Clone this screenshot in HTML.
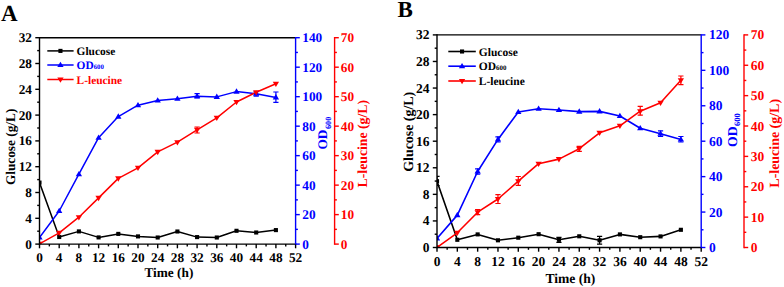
<!DOCTYPE html><html><head><meta charset="utf-8"><style>html,body{margin:0;padding:0;background:#fff;}svg{display:block;}</style></head><body>
<svg width="784" height="287" viewBox="0 0 784 287" font-family='"Liberation Serif", serif' font-weight="bold" text-rendering="geometricPrecision">
<rect width="784" height="287" fill="#fff"/>
<clipPath id="cA"><rect x="39.5" y="37.7" width="256.1" height="206.4"/></clipPath>
<g clip-path="url(#cA)">
<polyline points="39.5,182.6 59.2,237 78.9,231.4 98.6,237.4 118.3,233.9 138,236.4 157.7,237.5 177.4,231.5 197.1,237.1 216.8,237.5 236.5,230.8 256.2,232.5 275.9,230.1" fill="none" stroke="#000000" stroke-width="1.5" stroke-linejoin="round"/>
<polyline points="39.5,237.5 59.2,211 78.9,174.2 98.6,137.7 118.3,116.6 138,105.2 157.7,100.5 177.4,98.8 197.1,96.2 216.8,96.9 236.5,91.6 256.2,93.8 275.9,97.4" fill="none" stroke="#0000FF" stroke-width="1.5" stroke-linejoin="round"/>
<polyline points="39.5,243.8 59.2,232.8 78.9,217.2 98.6,197.9 118.3,178.4 138,167.8 157.7,151.9 177.4,142.2 197.1,129.9 216.8,117.8 236.5,102 256.2,92.2 275.9,83.8" fill="none" stroke="#FF0000" stroke-width="1.5" stroke-linejoin="round"/>
<line x1="275.9" y1="92" x2="275.9" y2="102.4" stroke="#0000FF" stroke-width="1.2"/>
<line x1="273.3" y1="92" x2="278.5" y2="92" stroke="#0000FF" stroke-width="1.2"/>
<line x1="273.3" y1="102.4" x2="278.5" y2="102.4" stroke="#0000FF" stroke-width="1.2"/>
<line x1="197.1" y1="127" x2="197.1" y2="133" stroke="#FF0000" stroke-width="1.2"/>
<line x1="194.5" y1="127" x2="199.7" y2="127" stroke="#FF0000" stroke-width="1.2"/>
<line x1="194.5" y1="133" x2="199.7" y2="133" stroke="#FF0000" stroke-width="1.2"/>
<line x1="256.2" y1="91.5" x2="256.2" y2="96.1" stroke="#0000FF" stroke-width="1.2"/>
<line x1="253.6" y1="91.5" x2="258.8" y2="91.5" stroke="#0000FF" stroke-width="1.2"/>
<line x1="253.6" y1="96.1" x2="258.8" y2="96.1" stroke="#0000FF" stroke-width="1.2"/>
<line x1="197.1" y1="93.6" x2="197.1" y2="97.9" stroke="#0000FF" stroke-width="1.2"/>
<line x1="194.5" y1="93.6" x2="199.7" y2="93.6" stroke="#0000FF" stroke-width="1.2"/>
<line x1="194.5" y1="97.9" x2="199.7" y2="97.9" stroke="#0000FF" stroke-width="1.2"/>
<rect x="37.45" y="180.55" width="4.1" height="4.1" fill="#000000"/>
<rect x="57.15" y="234.95" width="4.1" height="4.1" fill="#000000"/>
<rect x="76.85" y="229.35" width="4.1" height="4.1" fill="#000000"/>
<rect x="96.55" y="235.35" width="4.1" height="4.1" fill="#000000"/>
<rect x="116.25" y="231.85" width="4.1" height="4.1" fill="#000000"/>
<rect x="135.95" y="234.35" width="4.1" height="4.1" fill="#000000"/>
<rect x="155.65" y="235.45" width="4.1" height="4.1" fill="#000000"/>
<rect x="175.35" y="229.45" width="4.1" height="4.1" fill="#000000"/>
<rect x="195.05" y="235.05" width="4.1" height="4.1" fill="#000000"/>
<rect x="214.75" y="235.45" width="4.1" height="4.1" fill="#000000"/>
<rect x="234.45" y="228.75" width="4.1" height="4.1" fill="#000000"/>
<rect x="254.15" y="230.45" width="4.1" height="4.1" fill="#000000"/>
<rect x="273.85" y="228.05" width="4.1" height="4.1" fill="#000000"/>
<polygon points="39.5,234.18 42.65,239.53 36.35,239.53" fill="#0000FF"/>
<polygon points="59.2,207.68 62.35,213.03 56.05,213.03" fill="#0000FF"/>
<polygon points="78.9,170.88 82.05,176.23 75.75,176.23" fill="#0000FF"/>
<polygon points="98.6,134.38 101.75,139.73 95.45,139.73" fill="#0000FF"/>
<polygon points="118.3,113.28 121.45,118.63 115.15,118.63" fill="#0000FF"/>
<polygon points="138,101.88 141.15,107.23 134.85,107.23" fill="#0000FF"/>
<polygon points="157.7,97.18 160.85,102.53 154.55,102.53" fill="#0000FF"/>
<polygon points="177.4,95.48 180.55,100.83 174.25,100.83" fill="#0000FF"/>
<polygon points="197.1,92.88 200.25,98.23 193.95,98.23" fill="#0000FF"/>
<polygon points="216.8,93.58 219.95,98.93 213.65,98.93" fill="#0000FF"/>
<polygon points="236.5,88.28 239.65,93.63 233.35,93.63" fill="#0000FF"/>
<polygon points="256.2,90.48 259.35,95.83 253.05,95.83" fill="#0000FF"/>
<polygon points="275.9,94.08 279.05,99.43 272.75,99.43" fill="#0000FF"/>
<polygon points="39.5,247.12 42.65,241.77 36.35,241.77" fill="#FF0000"/>
<polygon points="59.2,236.12 62.35,230.77 56.05,230.77" fill="#FF0000"/>
<polygon points="78.9,220.52 82.05,215.17 75.75,215.17" fill="#FF0000"/>
<polygon points="98.6,201.22 101.75,195.87 95.45,195.87" fill="#FF0000"/>
<polygon points="118.3,181.72 121.45,176.37 115.15,176.37" fill="#FF0000"/>
<polygon points="138,171.12 141.15,165.77 134.85,165.77" fill="#FF0000"/>
<polygon points="157.7,155.22 160.85,149.87 154.55,149.87" fill="#FF0000"/>
<polygon points="177.4,145.52 180.55,140.17 174.25,140.17" fill="#FF0000"/>
<polygon points="197.1,133.22 200.25,127.87 193.95,127.87" fill="#FF0000"/>
<polygon points="216.8,121.12 219.95,115.77 213.65,115.77" fill="#FF0000"/>
<polygon points="236.5,105.32 239.65,99.97 233.35,99.97" fill="#FF0000"/>
<polygon points="256.2,95.52 259.35,90.17 253.05,90.17" fill="#FF0000"/>
<polygon points="275.9,87.12 279.05,81.77 272.75,81.77" fill="#FF0000"/>
</g>
<line x1="39.5" y1="37.7" x2="295.6" y2="37.7" stroke="#000000" stroke-width="1.4"/>
<line x1="39.5" y1="244.1" x2="296.3" y2="244.1" stroke="#000000" stroke-width="1.4"/>
<line x1="39.5" y1="37" x2="39.5" y2="244.8" stroke="#000000" stroke-width="1.4"/>
<line x1="295.6" y1="37" x2="295.6" y2="244.8" stroke="#0000FF" stroke-width="1.4"/>
<line x1="334.6" y1="37" x2="334.6" y2="244.8" stroke="#FF0000" stroke-width="1.4"/>
<line x1="35.3" y1="244.1" x2="39.5" y2="244.1" stroke="#000000" stroke-width="1.4"/>
<text x="32" y="248.56" font-size="13.3" fill="#000000" text-anchor="end" >0</text>
<line x1="37.2" y1="231.2" x2="39.5" y2="231.2" stroke="#000000" stroke-width="1.4"/>
<line x1="35.3" y1="218.3" x2="39.5" y2="218.3" stroke="#000000" stroke-width="1.4"/>
<text x="32" y="222.76" font-size="13.3" fill="#000000" text-anchor="end" >4</text>
<line x1="37.2" y1="205.4" x2="39.5" y2="205.4" stroke="#000000" stroke-width="1.4"/>
<line x1="35.3" y1="192.5" x2="39.5" y2="192.5" stroke="#000000" stroke-width="1.4"/>
<text x="32" y="196.96" font-size="13.3" fill="#000000" text-anchor="end" >8</text>
<line x1="37.2" y1="179.6" x2="39.5" y2="179.6" stroke="#000000" stroke-width="1.4"/>
<line x1="35.3" y1="166.7" x2="39.5" y2="166.7" stroke="#000000" stroke-width="1.4"/>
<text x="32" y="171.16" font-size="13.3" fill="#000000" text-anchor="end" >12</text>
<line x1="37.2" y1="153.8" x2="39.5" y2="153.8" stroke="#000000" stroke-width="1.4"/>
<line x1="35.3" y1="140.9" x2="39.5" y2="140.9" stroke="#000000" stroke-width="1.4"/>
<text x="32" y="145.36" font-size="13.3" fill="#000000" text-anchor="end" >16</text>
<line x1="37.2" y1="128" x2="39.5" y2="128" stroke="#000000" stroke-width="1.4"/>
<line x1="35.3" y1="115.1" x2="39.5" y2="115.1" stroke="#000000" stroke-width="1.4"/>
<text x="32" y="119.56" font-size="13.3" fill="#000000" text-anchor="end" >20</text>
<line x1="37.2" y1="102.2" x2="39.5" y2="102.2" stroke="#000000" stroke-width="1.4"/>
<line x1="35.3" y1="89.3" x2="39.5" y2="89.3" stroke="#000000" stroke-width="1.4"/>
<text x="32" y="93.76" font-size="13.3" fill="#000000" text-anchor="end" >24</text>
<line x1="37.2" y1="76.4" x2="39.5" y2="76.4" stroke="#000000" stroke-width="1.4"/>
<line x1="35.3" y1="63.5" x2="39.5" y2="63.5" stroke="#000000" stroke-width="1.4"/>
<text x="32" y="67.96" font-size="13.3" fill="#000000" text-anchor="end" >28</text>
<line x1="37.2" y1="50.6" x2="39.5" y2="50.6" stroke="#000000" stroke-width="1.4"/>
<line x1="35.3" y1="37.7" x2="39.5" y2="37.7" stroke="#000000" stroke-width="1.4"/>
<text x="32" y="42.16" font-size="13.3" fill="#000000" text-anchor="end" >32</text>
<line x1="39.5" y1="244.1" x2="39.5" y2="248.3" stroke="#000000" stroke-width="1.4"/>
<text x="39.5" y="262.1" font-size="13.3" fill="#000000" text-anchor="middle" >0</text>
<line x1="49.35" y1="244.1" x2="49.35" y2="246.4" stroke="#000000" stroke-width="1.4"/>
<line x1="59.2" y1="244.1" x2="59.2" y2="248.3" stroke="#000000" stroke-width="1.4"/>
<text x="59.2" y="262.1" font-size="13.3" fill="#000000" text-anchor="middle" >4</text>
<line x1="69.05" y1="244.1" x2="69.05" y2="246.4" stroke="#000000" stroke-width="1.4"/>
<line x1="78.9" y1="244.1" x2="78.9" y2="248.3" stroke="#000000" stroke-width="1.4"/>
<text x="78.9" y="262.1" font-size="13.3" fill="#000000" text-anchor="middle" >8</text>
<line x1="88.75" y1="244.1" x2="88.75" y2="246.4" stroke="#000000" stroke-width="1.4"/>
<line x1="98.6" y1="244.1" x2="98.6" y2="248.3" stroke="#000000" stroke-width="1.4"/>
<text x="98.6" y="262.1" font-size="13.3" fill="#000000" text-anchor="middle" >12</text>
<line x1="108.45" y1="244.1" x2="108.45" y2="246.4" stroke="#000000" stroke-width="1.4"/>
<line x1="118.3" y1="244.1" x2="118.3" y2="248.3" stroke="#000000" stroke-width="1.4"/>
<text x="118.3" y="262.1" font-size="13.3" fill="#000000" text-anchor="middle" >16</text>
<line x1="128.15" y1="244.1" x2="128.15" y2="246.4" stroke="#000000" stroke-width="1.4"/>
<line x1="138" y1="244.1" x2="138" y2="248.3" stroke="#000000" stroke-width="1.4"/>
<text x="138" y="262.1" font-size="13.3" fill="#000000" text-anchor="middle" >20</text>
<line x1="147.85" y1="244.1" x2="147.85" y2="246.4" stroke="#000000" stroke-width="1.4"/>
<line x1="157.7" y1="244.1" x2="157.7" y2="248.3" stroke="#000000" stroke-width="1.4"/>
<text x="157.7" y="262.1" font-size="13.3" fill="#000000" text-anchor="middle" >24</text>
<line x1="167.55" y1="244.1" x2="167.55" y2="246.4" stroke="#000000" stroke-width="1.4"/>
<line x1="177.4" y1="244.1" x2="177.4" y2="248.3" stroke="#000000" stroke-width="1.4"/>
<text x="177.4" y="262.1" font-size="13.3" fill="#000000" text-anchor="middle" >28</text>
<line x1="187.25" y1="244.1" x2="187.25" y2="246.4" stroke="#000000" stroke-width="1.4"/>
<line x1="197.1" y1="244.1" x2="197.1" y2="248.3" stroke="#000000" stroke-width="1.4"/>
<text x="197.1" y="262.1" font-size="13.3" fill="#000000" text-anchor="middle" >32</text>
<line x1="206.95" y1="244.1" x2="206.95" y2="246.4" stroke="#000000" stroke-width="1.4"/>
<line x1="216.8" y1="244.1" x2="216.8" y2="248.3" stroke="#000000" stroke-width="1.4"/>
<text x="216.8" y="262.1" font-size="13.3" fill="#000000" text-anchor="middle" >36</text>
<line x1="226.65" y1="244.1" x2="226.65" y2="246.4" stroke="#000000" stroke-width="1.4"/>
<line x1="236.5" y1="244.1" x2="236.5" y2="248.3" stroke="#000000" stroke-width="1.4"/>
<text x="236.5" y="262.1" font-size="13.3" fill="#000000" text-anchor="middle" >40</text>
<line x1="246.35" y1="244.1" x2="246.35" y2="246.4" stroke="#000000" stroke-width="1.4"/>
<line x1="256.2" y1="244.1" x2="256.2" y2="248.3" stroke="#000000" stroke-width="1.4"/>
<text x="256.2" y="262.1" font-size="13.3" fill="#000000" text-anchor="middle" >44</text>
<line x1="266.05" y1="244.1" x2="266.05" y2="246.4" stroke="#000000" stroke-width="1.4"/>
<line x1="275.9" y1="244.1" x2="275.9" y2="248.3" stroke="#000000" stroke-width="1.4"/>
<text x="275.9" y="262.1" font-size="13.3" fill="#000000" text-anchor="middle" >48</text>
<line x1="285.75" y1="244.1" x2="285.75" y2="246.4" stroke="#000000" stroke-width="1.4"/>
<line x1="295.6" y1="244.1" x2="295.6" y2="248.3" stroke="#000000" stroke-width="1.4"/>
<text x="295.6" y="262.1" font-size="13.3" fill="#000000" text-anchor="middle" >52</text>
<line x1="295.6" y1="244.1" x2="299.8" y2="244.1" stroke="#0000FF" stroke-width="1.4"/>
<text x="302.3" y="248.56" font-size="13.3" fill="#0000FF" text-anchor="start" >0</text>
<line x1="295.6" y1="229.36" x2="297.9" y2="229.36" stroke="#0000FF" stroke-width="1.4"/>
<line x1="295.6" y1="214.61" x2="299.8" y2="214.61" stroke="#0000FF" stroke-width="1.4"/>
<text x="302.3" y="219.07" font-size="13.3" fill="#0000FF" text-anchor="start" >20</text>
<line x1="295.6" y1="199.87" x2="297.9" y2="199.87" stroke="#0000FF" stroke-width="1.4"/>
<line x1="295.6" y1="185.13" x2="299.8" y2="185.13" stroke="#0000FF" stroke-width="1.4"/>
<text x="302.3" y="189.58" font-size="13.3" fill="#0000FF" text-anchor="start" >40</text>
<line x1="295.6" y1="170.39" x2="297.9" y2="170.39" stroke="#0000FF" stroke-width="1.4"/>
<line x1="295.6" y1="155.64" x2="299.8" y2="155.64" stroke="#0000FF" stroke-width="1.4"/>
<text x="302.3" y="160.1" font-size="13.3" fill="#0000FF" text-anchor="start" >60</text>
<line x1="295.6" y1="140.9" x2="297.9" y2="140.9" stroke="#0000FF" stroke-width="1.4"/>
<line x1="295.6" y1="126.16" x2="299.8" y2="126.16" stroke="#0000FF" stroke-width="1.4"/>
<text x="302.3" y="130.61" font-size="13.3" fill="#0000FF" text-anchor="start" >80</text>
<line x1="295.6" y1="111.41" x2="297.9" y2="111.41" stroke="#0000FF" stroke-width="1.4"/>
<line x1="295.6" y1="96.67" x2="299.8" y2="96.67" stroke="#0000FF" stroke-width="1.4"/>
<text x="302.3" y="101.13" font-size="13.3" fill="#0000FF" text-anchor="start" >100</text>
<line x1="295.6" y1="81.93" x2="297.9" y2="81.93" stroke="#0000FF" stroke-width="1.4"/>
<line x1="295.6" y1="67.19" x2="299.8" y2="67.19" stroke="#0000FF" stroke-width="1.4"/>
<text x="302.3" y="71.64" font-size="13.3" fill="#0000FF" text-anchor="start" >120</text>
<line x1="295.6" y1="52.44" x2="297.9" y2="52.44" stroke="#0000FF" stroke-width="1.4"/>
<line x1="295.6" y1="37.7" x2="299.8" y2="37.7" stroke="#0000FF" stroke-width="1.4"/>
<text x="302.3" y="42.16" font-size="13.3" fill="#0000FF" text-anchor="start" >140</text>
<line x1="334.6" y1="244.1" x2="338.8" y2="244.1" stroke="#FF0000" stroke-width="1.4"/>
<text x="340.8" y="248.56" font-size="13.3" fill="#FF0000" text-anchor="start" >0</text>
<line x1="334.6" y1="229.36" x2="336.9" y2="229.36" stroke="#FF0000" stroke-width="1.4"/>
<line x1="334.6" y1="214.61" x2="338.8" y2="214.61" stroke="#FF0000" stroke-width="1.4"/>
<text x="340.8" y="219.07" font-size="13.3" fill="#FF0000" text-anchor="start" >10</text>
<line x1="334.6" y1="199.87" x2="336.9" y2="199.87" stroke="#FF0000" stroke-width="1.4"/>
<line x1="334.6" y1="185.13" x2="338.8" y2="185.13" stroke="#FF0000" stroke-width="1.4"/>
<text x="340.8" y="189.58" font-size="13.3" fill="#FF0000" text-anchor="start" >20</text>
<line x1="334.6" y1="170.39" x2="336.9" y2="170.39" stroke="#FF0000" stroke-width="1.4"/>
<line x1="334.6" y1="155.64" x2="338.8" y2="155.64" stroke="#FF0000" stroke-width="1.4"/>
<text x="340.8" y="160.1" font-size="13.3" fill="#FF0000" text-anchor="start" >30</text>
<line x1="334.6" y1="140.9" x2="336.9" y2="140.9" stroke="#FF0000" stroke-width="1.4"/>
<line x1="334.6" y1="126.16" x2="338.8" y2="126.16" stroke="#FF0000" stroke-width="1.4"/>
<text x="340.8" y="130.61" font-size="13.3" fill="#FF0000" text-anchor="start" >40</text>
<line x1="334.6" y1="111.41" x2="336.9" y2="111.41" stroke="#FF0000" stroke-width="1.4"/>
<line x1="334.6" y1="96.67" x2="338.8" y2="96.67" stroke="#FF0000" stroke-width="1.4"/>
<text x="340.8" y="101.13" font-size="13.3" fill="#FF0000" text-anchor="start" >50</text>
<line x1="334.6" y1="81.93" x2="336.9" y2="81.93" stroke="#FF0000" stroke-width="1.4"/>
<line x1="334.6" y1="67.19" x2="338.8" y2="67.19" stroke="#FF0000" stroke-width="1.4"/>
<text x="340.8" y="71.64" font-size="13.3" fill="#FF0000" text-anchor="start" >60</text>
<line x1="334.6" y1="52.44" x2="336.9" y2="52.44" stroke="#FF0000" stroke-width="1.4"/>
<line x1="334.6" y1="37.7" x2="338.8" y2="37.7" stroke="#FF0000" stroke-width="1.4"/>
<text x="340.8" y="42.16" font-size="13.3" fill="#FF0000" text-anchor="start" >70</text>
<text x="0" y="0" font-size="13.3" fill="#000000" text-anchor="middle" transform="translate(15,146.9) rotate(-90)">Glucose (g/L)</text>
<text x="0" y="0" font-size="13.75" fill="#FF0000" text-anchor="middle" transform="translate(367,143.7) rotate(-90)">L-leucine (g/L)</text>
<text x="0" y="0" font-size="13.3" fill="#0000FF" text-anchor="start" transform="translate(327.2,149.6) rotate(-90)">OD<tspan font-size="8.25" dx="0.6" dy="3.4">600</tspan></text>
<text x="168.9" y="277.4" font-size="13.3" fill="#000000" text-anchor="middle" >Time (h)</text>
<line x1="47.3" y1="50.9" x2="73.6" y2="50.9" stroke="#000000" stroke-width="1.5"/>
<rect x="58.4" y="48.85" width="4.1" height="4.1" fill="#000000"/>
<text x="76.6" y="55.12" font-size="11.4" fill="#000000" text-anchor="start" >Glucose</text>
<line x1="47.3" y1="65" x2="73.6" y2="65" stroke="#0000FF" stroke-width="1.5"/>
<polygon points="60.45,61.68 63.6,67.03 57.3,67.03" fill="#0000FF"/>
<text x="76.6" y="69.22" font-size="11.4" fill="#0000FF">OD<tspan font-size="6.84">600</tspan></text>
<line x1="47.3" y1="79.5" x2="73.6" y2="79.5" stroke="#FF0000" stroke-width="1.5"/>
<polygon points="60.45,82.82 63.6,77.47 57.3,77.47" fill="#FF0000"/>
<text x="76.6" y="83.72" font-size="11.4" fill="#FF0000" text-anchor="start" >L-leucine</text>
<text x="1" y="21.3" font-size="23" fill="#000000" text-anchor="start" >A</text>
<clipPath id="cB"><rect x="437" y="34.9" width="264.2" height="212.6"/></clipPath>
<g clip-path="url(#cB)">
<polyline points="437,181.2 457.32,239.8 477.65,234.4 497.97,240.3 518.29,237.7 538.62,234.2 558.94,239.8 579.26,236.3 599.58,240.3 619.91,234.4 640.23,237.2 660.55,236.4 680.88,229.8" fill="none" stroke="#000000" stroke-width="1.6" stroke-linejoin="round"/>
<polyline points="437,238.4 457.32,215.1 477.65,171.5 497.97,139.4 518.29,112 538.62,108.8 558.94,110 579.26,111.6 599.58,111.4 619.91,116 640.23,128.2 660.55,133.8 680.88,139.5" fill="none" stroke="#0000FF" stroke-width="1.6" stroke-linejoin="round"/>
<polyline points="437,247.4 457.32,232.8 477.65,212.2 497.97,199 518.29,181.2 538.62,163.7 558.94,159.1 579.26,148.7 599.58,132.8 619.91,125.8 640.23,111.2 660.55,102.8 680.88,80.3" fill="none" stroke="#FF0000" stroke-width="1.6" stroke-linejoin="round"/>
<line x1="437" y1="176.4" x2="437" y2="185.5" stroke="#000000" stroke-width="1.2"/>
<line x1="434.4" y1="176.4" x2="439.6" y2="176.4" stroke="#000000" stroke-width="1.2"/>
<line x1="434.4" y1="185.5" x2="439.6" y2="185.5" stroke="#000000" stroke-width="1.2"/>
<line x1="477.65" y1="168.8" x2="477.65" y2="174.2" stroke="#0000FF" stroke-width="1.2"/>
<line x1="475.05" y1="168.8" x2="480.25" y2="168.8" stroke="#0000FF" stroke-width="1.2"/>
<line x1="475.05" y1="174.2" x2="480.25" y2="174.2" stroke="#0000FF" stroke-width="1.2"/>
<line x1="477.65" y1="209.7" x2="477.65" y2="214.7" stroke="#FF0000" stroke-width="1.2"/>
<line x1="475.05" y1="209.7" x2="480.25" y2="209.7" stroke="#FF0000" stroke-width="1.2"/>
<line x1="475.05" y1="214.7" x2="480.25" y2="214.7" stroke="#FF0000" stroke-width="1.2"/>
<line x1="497.97" y1="194.6" x2="497.97" y2="203.5" stroke="#FF0000" stroke-width="1.2"/>
<line x1="495.37" y1="194.6" x2="500.57" y2="194.6" stroke="#FF0000" stroke-width="1.2"/>
<line x1="495.37" y1="203.5" x2="500.57" y2="203.5" stroke="#FF0000" stroke-width="1.2"/>
<line x1="518.29" y1="176.5" x2="518.29" y2="185.4" stroke="#FF0000" stroke-width="1.2"/>
<line x1="515.69" y1="176.5" x2="520.89" y2="176.5" stroke="#FF0000" stroke-width="1.2"/>
<line x1="515.69" y1="185.4" x2="520.89" y2="185.4" stroke="#FF0000" stroke-width="1.2"/>
<line x1="640.23" y1="106.4" x2="640.23" y2="115.2" stroke="#FF0000" stroke-width="1.2"/>
<line x1="637.63" y1="106.4" x2="642.83" y2="106.4" stroke="#FF0000" stroke-width="1.2"/>
<line x1="637.63" y1="115.2" x2="642.83" y2="115.2" stroke="#FF0000" stroke-width="1.2"/>
<line x1="680.88" y1="76" x2="680.88" y2="84.6" stroke="#FF0000" stroke-width="1.2"/>
<line x1="678.28" y1="76" x2="683.48" y2="76" stroke="#FF0000" stroke-width="1.2"/>
<line x1="678.28" y1="84.6" x2="683.48" y2="84.6" stroke="#FF0000" stroke-width="1.2"/>
<line x1="497.97" y1="136.8" x2="497.97" y2="142" stroke="#0000FF" stroke-width="1.2"/>
<line x1="495.37" y1="136.8" x2="500.57" y2="136.8" stroke="#0000FF" stroke-width="1.2"/>
<line x1="495.37" y1="142" x2="500.57" y2="142" stroke="#0000FF" stroke-width="1.2"/>
<line x1="579.26" y1="146.3" x2="579.26" y2="151.3" stroke="#FF0000" stroke-width="1.2"/>
<line x1="576.66" y1="146.3" x2="581.86" y2="146.3" stroke="#FF0000" stroke-width="1.2"/>
<line x1="576.66" y1="151.3" x2="581.86" y2="151.3" stroke="#FF0000" stroke-width="1.2"/>
<line x1="660.55" y1="130.8" x2="660.55" y2="136.5" stroke="#0000FF" stroke-width="1.2"/>
<line x1="657.95" y1="130.8" x2="663.15" y2="130.8" stroke="#0000FF" stroke-width="1.2"/>
<line x1="657.95" y1="136.5" x2="663.15" y2="136.5" stroke="#0000FF" stroke-width="1.2"/>
<line x1="680.88" y1="136.5" x2="680.88" y2="142" stroke="#0000FF" stroke-width="1.2"/>
<line x1="678.28" y1="136.5" x2="683.48" y2="136.5" stroke="#0000FF" stroke-width="1.2"/>
<line x1="678.28" y1="142" x2="683.48" y2="142" stroke="#0000FF" stroke-width="1.2"/>
<line x1="558.94" y1="237.4" x2="558.94" y2="242.4" stroke="#000000" stroke-width="1.2"/>
<line x1="556.34" y1="237.4" x2="561.54" y2="237.4" stroke="#000000" stroke-width="1.2"/>
<line x1="556.34" y1="242.4" x2="561.54" y2="242.4" stroke="#000000" stroke-width="1.2"/>
<line x1="599.58" y1="236.4" x2="599.58" y2="244.1" stroke="#000000" stroke-width="1.2"/>
<line x1="596.98" y1="236.4" x2="602.18" y2="236.4" stroke="#000000" stroke-width="1.2"/>
<line x1="596.98" y1="244.1" x2="602.18" y2="244.1" stroke="#000000" stroke-width="1.2"/>
<rect x="434.95" y="179.15" width="4.1" height="4.1" fill="#000000"/>
<rect x="455.27" y="237.75" width="4.1" height="4.1" fill="#000000"/>
<rect x="475.6" y="232.35" width="4.1" height="4.1" fill="#000000"/>
<rect x="495.92" y="238.25" width="4.1" height="4.1" fill="#000000"/>
<rect x="516.24" y="235.65" width="4.1" height="4.1" fill="#000000"/>
<rect x="536.57" y="232.15" width="4.1" height="4.1" fill="#000000"/>
<rect x="556.89" y="237.75" width="4.1" height="4.1" fill="#000000"/>
<rect x="577.21" y="234.25" width="4.1" height="4.1" fill="#000000"/>
<rect x="597.53" y="238.25" width="4.1" height="4.1" fill="#000000"/>
<rect x="617.86" y="232.35" width="4.1" height="4.1" fill="#000000"/>
<rect x="638.18" y="235.15" width="4.1" height="4.1" fill="#000000"/>
<rect x="658.5" y="234.35" width="4.1" height="4.1" fill="#000000"/>
<rect x="678.83" y="227.75" width="4.1" height="4.1" fill="#000000"/>
<polygon points="437,235.08 440.15,240.43 433.85,240.43" fill="#0000FF"/>
<polygon points="457.32,211.78 460.47,217.13 454.17,217.13" fill="#0000FF"/>
<polygon points="477.65,168.18 480.8,173.53 474.5,173.53" fill="#0000FF"/>
<polygon points="497.97,136.08 501.12,141.43 494.82,141.43" fill="#0000FF"/>
<polygon points="518.29,108.68 521.44,114.03 515.14,114.03" fill="#0000FF"/>
<polygon points="538.62,105.48 541.77,110.83 535.47,110.83" fill="#0000FF"/>
<polygon points="558.94,106.68 562.09,112.03 555.79,112.03" fill="#0000FF"/>
<polygon points="579.26,108.28 582.41,113.63 576.11,113.63" fill="#0000FF"/>
<polygon points="599.58,108.08 602.73,113.43 596.43,113.43" fill="#0000FF"/>
<polygon points="619.91,112.68 623.06,118.03 616.76,118.03" fill="#0000FF"/>
<polygon points="640.23,124.88 643.38,130.23 637.08,130.23" fill="#0000FF"/>
<polygon points="660.55,130.48 663.7,135.83 657.4,135.83" fill="#0000FF"/>
<polygon points="680.88,136.18 684.03,141.53 677.73,141.53" fill="#0000FF"/>
<polygon points="437,250.72 440.15,245.37 433.85,245.37" fill="#FF0000"/>
<polygon points="457.32,236.12 460.47,230.77 454.17,230.77" fill="#FF0000"/>
<polygon points="477.65,215.52 480.8,210.17 474.5,210.17" fill="#FF0000"/>
<polygon points="497.97,202.32 501.12,196.97 494.82,196.97" fill="#FF0000"/>
<polygon points="518.29,184.52 521.44,179.17 515.14,179.17" fill="#FF0000"/>
<polygon points="538.62,167.02 541.77,161.67 535.47,161.67" fill="#FF0000"/>
<polygon points="558.94,162.42 562.09,157.07 555.79,157.07" fill="#FF0000"/>
<polygon points="579.26,152.02 582.41,146.67 576.11,146.67" fill="#FF0000"/>
<polygon points="599.58,136.12 602.73,130.77 596.43,130.77" fill="#FF0000"/>
<polygon points="619.91,129.12 623.06,123.77 616.76,123.77" fill="#FF0000"/>
<polygon points="640.23,114.52 643.38,109.17 637.08,109.17" fill="#FF0000"/>
<polygon points="660.55,106.12 663.7,100.77 657.4,100.77" fill="#FF0000"/>
<polygon points="680.88,83.62 684.03,78.27 677.73,78.27" fill="#FF0000"/>
</g>
<line x1="437" y1="34.9" x2="701.2" y2="34.9" stroke="#000000" stroke-width="1.4"/>
<line x1="437" y1="247.5" x2="701.9" y2="247.5" stroke="#000000" stroke-width="1.4"/>
<line x1="437" y1="34.2" x2="437" y2="248.2" stroke="#000000" stroke-width="1.4"/>
<line x1="701.2" y1="34.2" x2="701.2" y2="248.2" stroke="#0000FF" stroke-width="1.4"/>
<line x1="744" y1="34.2" x2="744" y2="248.2" stroke="#FF0000" stroke-width="1.4"/>
<line x1="432.8" y1="247.5" x2="437" y2="247.5" stroke="#000000" stroke-width="1.4"/>
<text x="429.5" y="252.02" font-size="13.5" fill="#000000" text-anchor="end" >0</text>
<line x1="434.7" y1="234.21" x2="437" y2="234.21" stroke="#000000" stroke-width="1.4"/>
<line x1="432.8" y1="220.93" x2="437" y2="220.93" stroke="#000000" stroke-width="1.4"/>
<text x="429.5" y="225.45" font-size="13.5" fill="#000000" text-anchor="end" >4</text>
<line x1="434.7" y1="207.64" x2="437" y2="207.64" stroke="#000000" stroke-width="1.4"/>
<line x1="432.8" y1="194.35" x2="437" y2="194.35" stroke="#000000" stroke-width="1.4"/>
<text x="429.5" y="198.87" font-size="13.5" fill="#000000" text-anchor="end" >8</text>
<line x1="434.7" y1="181.06" x2="437" y2="181.06" stroke="#000000" stroke-width="1.4"/>
<line x1="432.8" y1="167.78" x2="437" y2="167.78" stroke="#000000" stroke-width="1.4"/>
<text x="429.5" y="172.3" font-size="13.5" fill="#000000" text-anchor="end" >12</text>
<line x1="434.7" y1="154.49" x2="437" y2="154.49" stroke="#000000" stroke-width="1.4"/>
<line x1="432.8" y1="141.2" x2="437" y2="141.2" stroke="#000000" stroke-width="1.4"/>
<text x="429.5" y="145.72" font-size="13.5" fill="#000000" text-anchor="end" >16</text>
<line x1="434.7" y1="127.91" x2="437" y2="127.91" stroke="#000000" stroke-width="1.4"/>
<line x1="432.8" y1="114.62" x2="437" y2="114.62" stroke="#000000" stroke-width="1.4"/>
<text x="429.5" y="119.15" font-size="13.5" fill="#000000" text-anchor="end" >20</text>
<line x1="434.7" y1="101.34" x2="437" y2="101.34" stroke="#000000" stroke-width="1.4"/>
<line x1="432.8" y1="88.05" x2="437" y2="88.05" stroke="#000000" stroke-width="1.4"/>
<text x="429.5" y="92.57" font-size="13.5" fill="#000000" text-anchor="end" >24</text>
<line x1="434.7" y1="74.76" x2="437" y2="74.76" stroke="#000000" stroke-width="1.4"/>
<line x1="432.8" y1="61.47" x2="437" y2="61.47" stroke="#000000" stroke-width="1.4"/>
<text x="429.5" y="66" font-size="13.5" fill="#000000" text-anchor="end" >28</text>
<line x1="434.7" y1="48.19" x2="437" y2="48.19" stroke="#000000" stroke-width="1.4"/>
<line x1="432.8" y1="34.9" x2="437" y2="34.9" stroke="#000000" stroke-width="1.4"/>
<text x="429.5" y="39.42" font-size="13.5" fill="#000000" text-anchor="end" >32</text>
<line x1="437" y1="247.5" x2="437" y2="251.7" stroke="#000000" stroke-width="1.4"/>
<text x="437" y="266" font-size="13.5" fill="#000000" text-anchor="middle" >0</text>
<line x1="447.16" y1="247.5" x2="447.16" y2="249.8" stroke="#000000" stroke-width="1.4"/>
<line x1="457.32" y1="247.5" x2="457.32" y2="251.7" stroke="#000000" stroke-width="1.4"/>
<text x="457.32" y="266" font-size="13.5" fill="#000000" text-anchor="middle" >4</text>
<line x1="467.48" y1="247.5" x2="467.48" y2="249.8" stroke="#000000" stroke-width="1.4"/>
<line x1="477.65" y1="247.5" x2="477.65" y2="251.7" stroke="#000000" stroke-width="1.4"/>
<text x="477.65" y="266" font-size="13.5" fill="#000000" text-anchor="middle" >8</text>
<line x1="487.81" y1="247.5" x2="487.81" y2="249.8" stroke="#000000" stroke-width="1.4"/>
<line x1="497.97" y1="247.5" x2="497.97" y2="251.7" stroke="#000000" stroke-width="1.4"/>
<text x="497.97" y="266" font-size="13.5" fill="#000000" text-anchor="middle" >12</text>
<line x1="508.13" y1="247.5" x2="508.13" y2="249.8" stroke="#000000" stroke-width="1.4"/>
<line x1="518.29" y1="247.5" x2="518.29" y2="251.7" stroke="#000000" stroke-width="1.4"/>
<text x="518.29" y="266" font-size="13.5" fill="#000000" text-anchor="middle" >16</text>
<line x1="528.45" y1="247.5" x2="528.45" y2="249.8" stroke="#000000" stroke-width="1.4"/>
<line x1="538.62" y1="247.5" x2="538.62" y2="251.7" stroke="#000000" stroke-width="1.4"/>
<text x="538.62" y="266" font-size="13.5" fill="#000000" text-anchor="middle" >20</text>
<line x1="548.78" y1="247.5" x2="548.78" y2="249.8" stroke="#000000" stroke-width="1.4"/>
<line x1="558.94" y1="247.5" x2="558.94" y2="251.7" stroke="#000000" stroke-width="1.4"/>
<text x="558.94" y="266" font-size="13.5" fill="#000000" text-anchor="middle" >24</text>
<line x1="569.1" y1="247.5" x2="569.1" y2="249.8" stroke="#000000" stroke-width="1.4"/>
<line x1="579.26" y1="247.5" x2="579.26" y2="251.7" stroke="#000000" stroke-width="1.4"/>
<text x="579.26" y="266" font-size="13.5" fill="#000000" text-anchor="middle" >28</text>
<line x1="589.42" y1="247.5" x2="589.42" y2="249.8" stroke="#000000" stroke-width="1.4"/>
<line x1="599.58" y1="247.5" x2="599.58" y2="251.7" stroke="#000000" stroke-width="1.4"/>
<text x="599.58" y="266" font-size="13.5" fill="#000000" text-anchor="middle" >32</text>
<line x1="609.75" y1="247.5" x2="609.75" y2="249.8" stroke="#000000" stroke-width="1.4"/>
<line x1="619.91" y1="247.5" x2="619.91" y2="251.7" stroke="#000000" stroke-width="1.4"/>
<text x="619.91" y="266" font-size="13.5" fill="#000000" text-anchor="middle" >36</text>
<line x1="630.07" y1="247.5" x2="630.07" y2="249.8" stroke="#000000" stroke-width="1.4"/>
<line x1="640.23" y1="247.5" x2="640.23" y2="251.7" stroke="#000000" stroke-width="1.4"/>
<text x="640.23" y="266" font-size="13.5" fill="#000000" text-anchor="middle" >40</text>
<line x1="650.39" y1="247.5" x2="650.39" y2="249.8" stroke="#000000" stroke-width="1.4"/>
<line x1="660.55" y1="247.5" x2="660.55" y2="251.7" stroke="#000000" stroke-width="1.4"/>
<text x="660.55" y="266" font-size="13.5" fill="#000000" text-anchor="middle" >44</text>
<line x1="670.72" y1="247.5" x2="670.72" y2="249.8" stroke="#000000" stroke-width="1.4"/>
<line x1="680.88" y1="247.5" x2="680.88" y2="251.7" stroke="#000000" stroke-width="1.4"/>
<text x="680.88" y="266" font-size="13.5" fill="#000000" text-anchor="middle" >48</text>
<line x1="691.04" y1="247.5" x2="691.04" y2="249.8" stroke="#000000" stroke-width="1.4"/>
<line x1="701.2" y1="247.5" x2="701.2" y2="251.7" stroke="#000000" stroke-width="1.4"/>
<text x="701.2" y="266" font-size="13.5" fill="#000000" text-anchor="middle" >52</text>
<line x1="701.2" y1="247.5" x2="705.4" y2="247.5" stroke="#0000FF" stroke-width="1.4"/>
<text x="708.9" y="252.02" font-size="13.5" fill="#0000FF" text-anchor="start" >0</text>
<line x1="701.2" y1="229.78" x2="703.5" y2="229.78" stroke="#0000FF" stroke-width="1.4"/>
<line x1="701.2" y1="212.07" x2="705.4" y2="212.07" stroke="#0000FF" stroke-width="1.4"/>
<text x="708.9" y="216.59" font-size="13.5" fill="#0000FF" text-anchor="start" >20</text>
<line x1="701.2" y1="194.35" x2="703.5" y2="194.35" stroke="#0000FF" stroke-width="1.4"/>
<line x1="701.2" y1="176.63" x2="705.4" y2="176.63" stroke="#0000FF" stroke-width="1.4"/>
<text x="708.9" y="181.16" font-size="13.5" fill="#0000FF" text-anchor="start" >40</text>
<line x1="701.2" y1="158.92" x2="703.5" y2="158.92" stroke="#0000FF" stroke-width="1.4"/>
<line x1="701.2" y1="141.2" x2="705.4" y2="141.2" stroke="#0000FF" stroke-width="1.4"/>
<text x="708.9" y="145.72" font-size="13.5" fill="#0000FF" text-anchor="start" >60</text>
<line x1="701.2" y1="123.48" x2="703.5" y2="123.48" stroke="#0000FF" stroke-width="1.4"/>
<line x1="701.2" y1="105.77" x2="705.4" y2="105.77" stroke="#0000FF" stroke-width="1.4"/>
<text x="708.9" y="110.29" font-size="13.5" fill="#0000FF" text-anchor="start" >80</text>
<line x1="701.2" y1="88.05" x2="703.5" y2="88.05" stroke="#0000FF" stroke-width="1.4"/>
<line x1="701.2" y1="70.33" x2="705.4" y2="70.33" stroke="#0000FF" stroke-width="1.4"/>
<text x="708.9" y="74.86" font-size="13.5" fill="#0000FF" text-anchor="start" >100</text>
<line x1="701.2" y1="52.62" x2="703.5" y2="52.62" stroke="#0000FF" stroke-width="1.4"/>
<line x1="701.2" y1="34.9" x2="705.4" y2="34.9" stroke="#0000FF" stroke-width="1.4"/>
<text x="708.9" y="39.42" font-size="13.5" fill="#0000FF" text-anchor="start" >120</text>
<line x1="744" y1="247.5" x2="748.2" y2="247.5" stroke="#FF0000" stroke-width="1.4"/>
<text x="750.8" y="252.02" font-size="13.5" fill="#FF0000" text-anchor="start" >0</text>
<line x1="744" y1="232.31" x2="746.3" y2="232.31" stroke="#FF0000" stroke-width="1.4"/>
<line x1="744" y1="217.13" x2="748.2" y2="217.13" stroke="#FF0000" stroke-width="1.4"/>
<text x="750.8" y="221.65" font-size="13.5" fill="#FF0000" text-anchor="start" >10</text>
<line x1="744" y1="201.94" x2="746.3" y2="201.94" stroke="#FF0000" stroke-width="1.4"/>
<line x1="744" y1="186.76" x2="748.2" y2="186.76" stroke="#FF0000" stroke-width="1.4"/>
<text x="750.8" y="191.28" font-size="13.5" fill="#FF0000" text-anchor="start" >20</text>
<line x1="744" y1="171.57" x2="746.3" y2="171.57" stroke="#FF0000" stroke-width="1.4"/>
<line x1="744" y1="156.39" x2="748.2" y2="156.39" stroke="#FF0000" stroke-width="1.4"/>
<text x="750.8" y="160.91" font-size="13.5" fill="#FF0000" text-anchor="start" >30</text>
<line x1="744" y1="141.2" x2="746.3" y2="141.2" stroke="#FF0000" stroke-width="1.4"/>
<line x1="744" y1="126.01" x2="748.2" y2="126.01" stroke="#FF0000" stroke-width="1.4"/>
<text x="750.8" y="130.54" font-size="13.5" fill="#FF0000" text-anchor="start" >40</text>
<line x1="744" y1="110.83" x2="746.3" y2="110.83" stroke="#FF0000" stroke-width="1.4"/>
<line x1="744" y1="95.64" x2="748.2" y2="95.64" stroke="#FF0000" stroke-width="1.4"/>
<text x="750.8" y="100.17" font-size="13.5" fill="#FF0000" text-anchor="start" >50</text>
<line x1="744" y1="80.46" x2="746.3" y2="80.46" stroke="#FF0000" stroke-width="1.4"/>
<line x1="744" y1="65.27" x2="748.2" y2="65.27" stroke="#FF0000" stroke-width="1.4"/>
<text x="750.8" y="69.79" font-size="13.5" fill="#FF0000" text-anchor="start" >60</text>
<line x1="744" y1="50.09" x2="746.3" y2="50.09" stroke="#FF0000" stroke-width="1.4"/>
<line x1="744" y1="34.9" x2="748.2" y2="34.9" stroke="#FF0000" stroke-width="1.4"/>
<text x="750.8" y="39.42" font-size="13.5" fill="#FF0000" text-anchor="start" >70</text>
<text x="0" y="0" font-size="13.9" fill="#000000" text-anchor="middle" transform="translate(412.5,131.8) rotate(-90)">Glucose (g/L)</text>
<text x="0" y="0" font-size="13.95" fill="#FF0000" text-anchor="middle" transform="translate(779,143.3) rotate(-90)">L-leucine (g/L)</text>
<text x="0" y="0" font-size="13.6" fill="#0000FF" text-anchor="start" transform="translate(736.8,146.9) rotate(-90)">OD<tspan font-size="8.43" dx="0.6" dy="3.4">600</tspan></text>
<text x="570.4" y="282.9" font-size="13.6" fill="#000000" text-anchor="middle" >Time (h)</text>
<line x1="448.3" y1="51.5" x2="475.8" y2="51.5" stroke="#000000" stroke-width="1.6"/>
<rect x="460" y="49.45" width="4.1" height="4.1" fill="#000000"/>
<text x="478.8" y="55.76" font-size="11.5" fill="#000000" text-anchor="start" >Glucose</text>
<line x1="448.3" y1="66.2" x2="475.8" y2="66.2" stroke="#0000FF" stroke-width="1.6"/>
<polygon points="462.05,62.88 465.2,68.23 458.9,68.23" fill="#0000FF"/>
<text x="478.8" y="70.45" font-size="11.5" fill="#000000">OD<tspan font-size="6.9">600</tspan></text>
<line x1="448.3" y1="81" x2="475.8" y2="81" stroke="#FF0000" stroke-width="1.6"/>
<polygon points="462.05,84.32 465.2,78.97 458.9,78.97" fill="#FF0000"/>
<text x="478.8" y="85.25" font-size="11.5" fill="#000000" text-anchor="start" >L-leucine</text>
<text x="397.5" y="16.7" font-size="23" fill="#000000" text-anchor="start" >B</text>
</svg></body></html>
